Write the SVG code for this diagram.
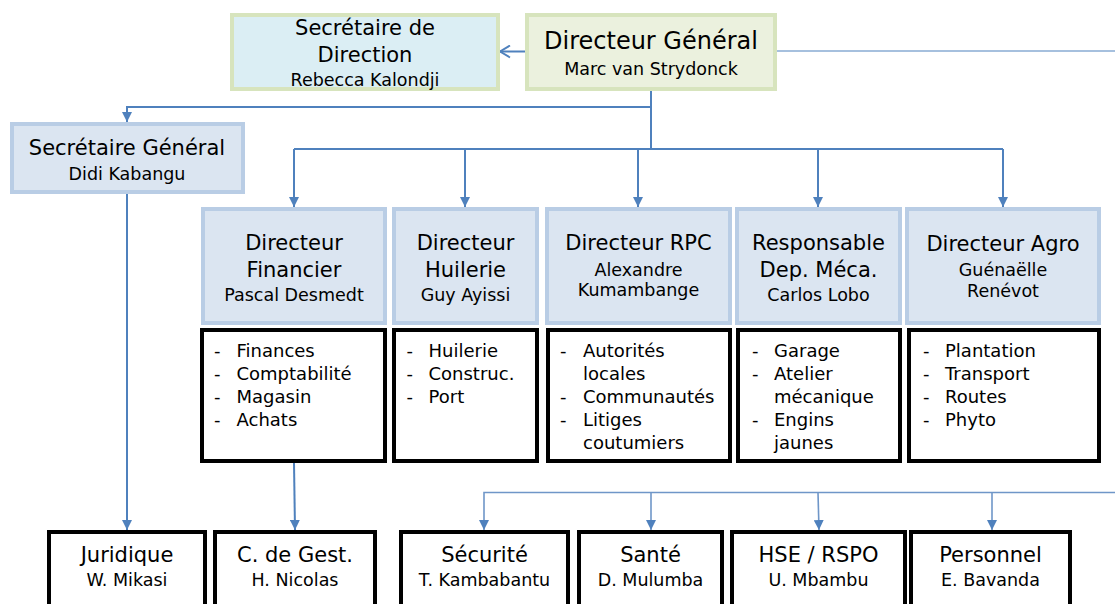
<svg xmlns="http://www.w3.org/2000/svg" width="1115" height="604" viewBox="0 0 1115 604">
<style>
text{font-family:"DejaVu Sans","Liberation Sans",sans-serif;fill:#000;text-anchor:middle}
.t{font-size:21px}
.tb{font-size:24px}
.n{font-size:17.5px}
.li{font-size:18px;text-anchor:start}
.mid{fill:#dbe5f1;stroke:#b9cde5;stroke-width:4}
.sd{fill:#dbeef4;stroke:#d7e4bd;stroke-width:4}
.dg{fill:#ebf1de;stroke:#d7e4bd;stroke-width:4}
.bx{fill:#fff;stroke:#000;stroke-width:4}
.c{fill:none;stroke:#4f81bd;stroke-width:2}
.c2{fill:none;stroke:#6f96c8;stroke-width:1.6}
</style>
<defs>
<marker id="a" markerUnits="userSpaceOnUse" markerWidth="11" markerHeight="10" refX="10" refY="5" orient="auto">
<path d="M0,0 L10,5 L0,10 Z" fill="#4f81bd"/>
</marker>
<marker id="o" markerUnits="userSpaceOnUse" markerWidth="12" markerHeight="14" refX="11" refY="7" orient="auto">
<path d="M1,1 L11,7 L1,13" fill="none" stroke="#4f81bd" stroke-width="2"/>
</marker>
</defs>

<g id="connectors">
<line class="c" x1="525" y1="51.5" x2="500" y2="51.5" marker-end="url(#o)"/>
<line x1="777" y1="51" x2="1115" y2="51" stroke="#4f81bd" stroke-width="1.2"/>
<line class="c" x1="651" y1="91" x2="651" y2="149" stroke-width="2.6"/>
<polyline class="c" points="651,107 127,107 127,122" marker-end="url(#a)"/>
<line class="c" x1="294" y1="149" x2="1003" y2="149" stroke-width="2.4"/>
<line class="c" x1="294" y1="149" x2="294" y2="207" marker-end="url(#a)"/>
<line class="c" x1="465" y1="149" x2="465" y2="207" marker-end="url(#a)"/>
<line class="c" x1="638" y1="149" x2="638" y2="207" marker-end="url(#a)"/>
<line class="c" x1="818" y1="149" x2="818" y2="207" marker-end="url(#a)"/>
<line class="c" x1="1003" y1="149" x2="1003" y2="207" marker-end="url(#a)"/>
<line class="c" x1="127" y1="194" x2="127" y2="530" marker-end="url(#a)"/>
<line class="c" x1="294" y1="463" x2="295" y2="530" marker-end="url(#a)"/>
<polyline class="c2" points="1115,492.5 484,492.5 484,530" marker-end="url(#a)"/>
<line class="c2" x1="651" y1="492.5" x2="651" y2="530" marker-end="url(#a)"/>
<line class="c2" x1="818" y1="492.5" x2="819" y2="530" marker-end="url(#a)"/>
<line class="c2" x1="992" y1="492.5" x2="992" y2="530" marker-end="url(#a)"/>
</g>

<g id="sec-direction">
<rect class="sd" x="232" y="15" width="266" height="74"/>
<text class="t" x="365" y="34.5">Secrétaire de</text>
<text class="t" x="365" y="62">Direction</text>
<text class="n" x="365" y="86">Rebecca Kalondji</text>
</g>

<g id="directeur-general">
<rect class="dg" x="527" y="15" width="248" height="74"/>
<text class="tb" x="651" y="49">Directeur Général</text>
<text class="n" x="651" y="75">Marc van Strydonck</text>
</g>

<g id="secretaire-general">
<rect class="mid" x="12" y="124" width="231" height="68"/>
<text class="t" x="127" y="155">Secrétaire Général</text>
<text class="n" x="127" y="180">Didi Kabangu</text>
</g>

<g id="dir-financier">
<rect class="mid" x="203" y="209" width="182" height="114"/>
<text class="t" x="294" y="250">Directeur</text>
<text class="t" x="294" y="277">Financier</text>
<text class="n" x="294" y="301">Pascal Desmedt</text>
</g>

<g id="dir-huilerie">
<rect class="mid" x="394" y="209" width="143" height="114"/>
<text class="t" x="465.5" y="250">Directeur</text>
<text class="t" x="465.5" y="277">Huilerie</text>
<text class="n" x="465.5" y="301">Guy Ayissi</text>
</g>

<g id="dir-rpc">
<rect class="mid" x="547" y="209" width="183" height="114"/>
<text class="t" x="638.5" y="250">Directeur RPC</text>
<text class="n" x="638.5" y="276">Alexandre</text>
<text class="n" x="638.5" y="296">Kumambange</text>
</g>

<g id="resp-meca">
<rect class="mid" x="737" y="209" width="163" height="114"/>
<text class="t" x="818.5" y="250">Responsable</text>
<text class="t" x="818.5" y="277">Dep. Méca.</text>
<text class="n" x="818.5" y="301">Carlos Lobo</text>
</g>

<g id="dir-agro">
<rect class="mid" x="907" y="209" width="192" height="114"/>
<text class="t" x="1003" y="251">Directeur Agro</text>
<text class="n" x="1003" y="276">Guénaëlle</text>
<text class="n" x="1003" y="297">Renévot</text>
</g>

<g id="list-financier">
<rect class="bx" x="202" y="330" width="183" height="131"/>
<text class="li" x="214" y="357">-</text><text class="li" x="236.5" y="357">Finances</text>
<text class="li" x="214" y="380">-</text><text class="li" x="236.5" y="380">Comptabilité</text>
<text class="li" x="214" y="403">-</text><text class="li" x="236.5" y="403">Magasin</text>
<text class="li" x="214" y="426">-</text><text class="li" x="236.5" y="426">Achats</text>
</g>

<g id="list-huilerie">
<rect class="bx" x="394" y="330" width="143" height="131"/>
<text class="li" x="406.5" y="357">-</text><text class="li" x="428.5" y="357">Huilerie</text>
<text class="li" x="406.5" y="380">-</text><text class="li" x="428.5" y="380">Construc.</text>
<text class="li" x="406.5" y="403">-</text><text class="li" x="428.5" y="403">Port</text>
</g>

<g id="list-rpc">
<rect class="bx" x="548" y="330" width="182" height="131"/>
<text class="li" x="560" y="357">-</text><text class="li" x="583" y="357">Autorités</text>
<text class="li" x="583" y="380">locales</text>
<text class="li" x="560" y="403">-</text><text class="li" x="583" y="403">Communautés</text>
<text class="li" x="560" y="426">-</text><text class="li" x="583" y="426">Litiges</text>
<text class="li" x="583" y="449">coutumiers</text>
</g>

<g id="list-meca">
<rect class="bx" x="738" y="330" width="162" height="131"/>
<text class="li" x="752" y="357">-</text><text class="li" x="774" y="357">Garage</text>
<text class="li" x="752" y="380">-</text><text class="li" x="774" y="380">Atelier</text>
<text class="li" x="774" y="403">mécanique</text>
<text class="li" x="752" y="426">-</text><text class="li" x="774" y="426">Engins</text>
<text class="li" x="774" y="449">jaunes</text>
</g>

<g id="list-agro">
<rect class="bx" x="909" y="330" width="190" height="131"/>
<text class="li" x="923" y="357">-</text><text class="li" x="945" y="357">Plantation</text>
<text class="li" x="923" y="380">-</text><text class="li" x="945" y="380">Transport</text>
<text class="li" x="923" y="403">-</text><text class="li" x="945" y="403">Routes</text>
<text class="li" x="923" y="426">-</text><text class="li" x="945" y="426">Phyto</text>
</g>

<g id="juridique">
<rect class="bx" x="49" y="532" width="156" height="90"/>
<text class="t" x="127" y="561.5">Juridique</text>
<text class="n" x="127" y="586">W. Mikasi</text>
</g>

<g id="controle-gestion">
<rect class="bx" x="215" y="532" width="160" height="90"/>
<text class="t" x="295" y="561.5">C. de Gest.</text>
<text class="n" x="295" y="586">H. Nicolas</text>
</g>

<g id="securite">
<rect class="bx" x="401" y="532" width="167" height="90"/>
<text class="t" x="484.5" y="561.5">Sécurité</text>
<text class="n" x="484.5" y="586">T. Kambabantu</text>
</g>

<g id="sante">
<rect class="bx" x="579" y="532" width="143" height="90"/>
<text class="t" x="650.5" y="561.5">Santé</text>
<text class="n" x="650.5" y="586">D. Mulumba</text>
</g>

<g id="hse-rspo">
<rect class="bx" x="732" y="532" width="173" height="90"/>
<text class="t" x="818.5" y="561.5">HSE / RSPO</text>
<text class="n" x="818.5" y="586">U. Mbambu</text>
</g>

<g id="personnel">
<rect class="bx" x="911" y="532" width="159" height="90"/>
<text class="t" x="990.5" y="561.5">Personnel</text>
<text class="n" x="990.5" y="586">E. Bavanda</text>
</g>
</svg>
